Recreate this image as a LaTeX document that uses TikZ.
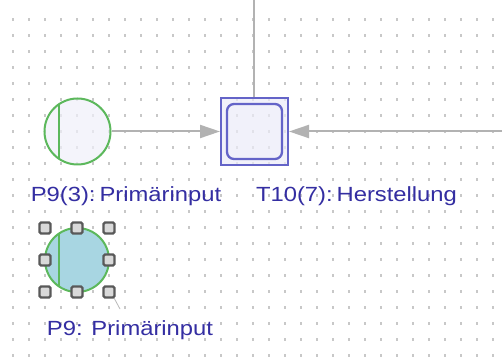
\documentclass[tikz,border=0pt]{standalone}
\usepackage{fontspec}
\setmainfont{Liberation Sans}
\usetikzlibrary{arrows.meta,positioning,calc}
\definecolor{gridgray}{RGB}{200,200,200}
\definecolor{linkgray}{RGB}{178,178,178}
\definecolor{placegreen}{RGB}{92,184,92}
\definecolor{placefill}{RGB}{240,240,250}
\definecolor{transblue}{RGB}{100,100,200}
\definecolor{transfill}{RGB}{236,236,248}
\definecolor{selfill}{RGB}{168,214,226}
\definecolor{labelblue}{RGB}{52,46,162}
\tikzset{
  linkarr/.style={-{Triangle[length=20pt,width=13pt]}, line width=2pt, draw=linkgray},
  placenode/.style={circle, draw=placegreen, line width=2pt, fill=placefill, fill opacity=0.7, draw opacity=1, minimum size=66pt, inner sep=0pt,
    path picture={\draw[placegreen, line width=2pt] ([xshift=14pt]path picture bounding box.north west) -- ([xshift=14pt]path picture bounding box.south west);}},
  netlabel/.style={text=labelblue, anchor=base, font=\fontsize{20.5}{24}\selectfont},
}

\begin{document}
\begin{tikzpicture}[
  x=1pt, y=1pt,
  transnode/.style={rectangle, draw=transblue, line width=2pt, fill=transfill, fill opacity=0.7, draw opacity=1, minimum size=67pt, inner sep=0pt,
    path picture={\draw[transblue, line width=2.3pt, rounded corners=7pt] ([shift={(6pt,-6pt)}]path picture bounding box.north west) rectangle ([shift={(-6pt,6pt)}]path picture bounding box.south east);}},
  handle/.style={rectangle, draw=gray!70!black, line width=2.2pt, fill=gray!30, rounded corners=1.5pt, minimum size=11pt, inner sep=0pt},
]
  \useasboundingbox (0,0) rectangle (502,358);
  \fill[white] (0,0) rectangle (502,358);

  % dotted canvas
  \foreach \i in {0,...,30}
    \foreach \j in {0,...,21}
      \fill[gridgray] ({13+16*\i-1.3},{338.3-16*\j-1.3}) rectangle ++(2.6,2.6);

  \node[placenode] (p9a) at (77.5,226.5) {};
  \node[transnode] (t10) at (254.5,226.5) {};
  \node[placenode, fill=selfill, fill opacity=1, minimum size=64pt] (p9b) at (77,98) {};

  \coordinate (topin) at (253.5,358);
  \coordinate (rightin) at (502,226.5);
  \draw[line width=2pt, linkgray] (topin) -- (topin |- t10.north);
  \draw[linkarr] (p9a) -- (t10);
  \draw[linkarr] (rightin) -- (t10);

  \node[netlabel] (lp9a) at (126,156) {\scalebox{1.16}[1]{P9(3):\,Primärinput}};
  \node[netlabel] (lt10) at (356.5,156) {\scalebox{1.16}[1]{T10(7):\,Herstellung}};
  \node[netlabel] (lp9b) at (130,23) {\scalebox{1.16}[1]{P9: Primärinput}};

  % selection handles
  \draw[gray!55, line width=0.8pt] ($(p9b.center)+(36,-36)$) -- ($(p9b.center)+(43,-49)$);
  \foreach \dx/\dy in {-32/32,0/32,32/32,-32/0,32/0,-32/-32,0/-32,32/-32}
    \node[handle] at ($(p9b.center)+(\dx,\dy)$) {};
\end{tikzpicture}
\end{document}
